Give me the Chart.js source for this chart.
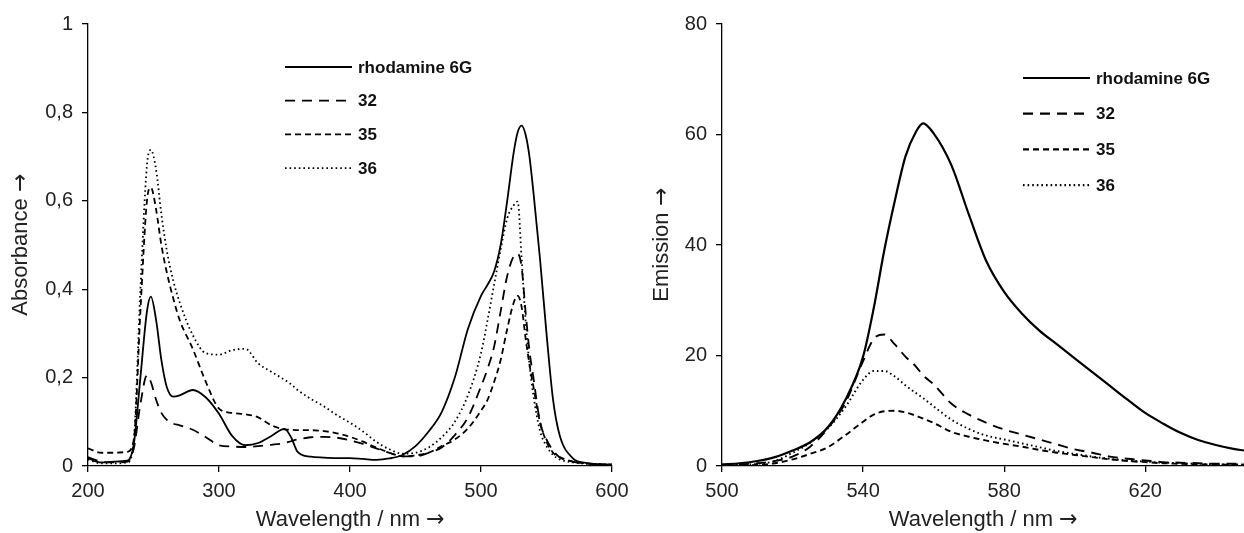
<!DOCTYPE html>
<html>
<head>
<meta charset="utf-8">
<script src="https://cdn.jsdelivr.net/npm/chart.js@4.4.0/dist/chart.umd.min.js"></script>
<style>
@font-face { font-family: 'ArrowGlyph'; src: local('DejaVu Sans'), local('DejaVuSans'); unicode-range: U+2190-21FF; }
html, body { margin: 0; padding: 0; background: #fff; }
#wrap { position: relative; width: 1244px; height: 533px; overflow: hidden; }
#absChart { position: absolute; left: 0; top: 0; }
#emChart { position: absolute; left: 640px; top: 0; }
</style>
</head>
<body>
<div id="wrap">
  <canvas id="absChart" width="640" height="533"></canvas>
  <canvas id="emChart" width="604" height="533"></canvas>
</div>
<script>
// series labels (same for both panels)
const seriesNames = ['rhodamine 6G', '32', '35', '36'];

// absorbance panel, wavelength in nm
const absTicksX = [200, 300, 400, 500, 600];
const absWavelength = [200, 210, 220, 230, 235, 240, 245, 248, 252, 256, 260, 265, 270, 280, 290, 300, 310, 320, 330, 340,
  350, 355, 360, 370, 380, 390, 400, 410, 420, 430, 440, 450, 460, 470, 480, 490, 500, 505, 510, 515,
  520, 525, 528, 531, 534, 537, 540, 545, 550, 555, 560, 570, 580, 590, 600];
const absRhodamine = [0.018, 0.008, 0.01, 0.012, 0.05, 0.2, 0.35, 0.383, 0.33, 0.24, 0.18, 0.157, 0.16, 0.172, 0.155, 0.118, 0.068, 0.047, 0.052, 0.068,
  0.084, 0.065, 0.032, 0.021, 0.019, 0.018, 0.018, 0.016, 0.014, 0.017, 0.025, 0.045, 0.078, 0.122, 0.2, 0.31, 0.385, 0.41, 0.44, 0.5,
  0.6, 0.71, 0.755, 0.77, 0.75, 0.7, 0.62, 0.47, 0.3, 0.15, 0.07, 0.018, 0.007, 0.004, 0.003];
const abs32 = [0.02, 0.01, 0.008, 0.01, 0.04, 0.14, 0.205, 0.19, 0.15, 0.12, 0.105, 0.096, 0.092, 0.082, 0.065, 0.047, 0.044, 0.043, 0.045, 0.048,
  0.052, 0.056, 0.06, 0.065, 0.066, 0.064, 0.058, 0.05, 0.04, 0.03, 0.022, 0.022, 0.03, 0.042, 0.07, 0.11, 0.18, 0.22, 0.27, 0.35,
  0.43, 0.475, 0.48, 0.45, 0.35, 0.26, 0.2, 0.1, 0.06, 0.035, 0.02, 0.01, 0.006, 0.004, 0.003];
const abs35 = [0.04, 0.03, 0.03, 0.032, 0.06, 0.35, 0.6, 0.63, 0.58, 0.5, 0.44, 0.38, 0.33, 0.265, 0.19, 0.13, 0.12, 0.117, 0.11, 0.092,
  0.083, 0.082, 0.081, 0.081, 0.079, 0.074, 0.066, 0.055, 0.042, 0.03, 0.022, 0.024, 0.03, 0.045, 0.06, 0.085, 0.125, 0.15, 0.19, 0.24,
  0.31, 0.37, 0.385, 0.36, 0.29, 0.23, 0.18, 0.1, 0.055, 0.03, 0.02, 0.01, 0.006, 0.004, 0.003];
const abs36 = [0.015, 0.006, 0.006, 0.008, 0.06, 0.4, 0.68, 0.715, 0.67, 0.57, 0.49, 0.42, 0.37, 0.296, 0.255, 0.252, 0.262, 0.265, 0.232, 0.213,
  0.195, 0.185, 0.172, 0.152, 0.135, 0.115, 0.098, 0.078, 0.055, 0.038, 0.028, 0.03, 0.042, 0.065, 0.1, 0.16, 0.255, 0.33, 0.41, 0.49,
  0.56, 0.59, 0.598, 0.47, 0.33, 0.23, 0.16, 0.08, 0.045, 0.025, 0.015, 0.008, 0.005, 0.004, 0.003];

// emission panel
const emTicksX = [500, 540, 580, 620];
const emWavelength = [500, 505, 510, 515, 520, 525, 530, 535, 540, 543, 546, 549, 552, 555, 557, 560, 565, 570, 575, 580,
  585, 590, 595, 600, 605, 610, 615, 620, 625, 630, 635, 640, 645, 648];
const emRhodamine = [0.3, 0.5, 0.9, 1.6, 2.8, 4.3, 7.0, 12, 19.8, 28.5, 39, 48, 56, 60.5, 62, 60.2, 54.5, 45.5, 37, 31.5,
  27.6, 24.5, 22, 19.5, 17, 14.5, 12, 9.6, 7.7, 6.0, 4.7, 3.8, 3.1, 2.8];
const em32 = [0.2, 0.3, 0.5, 0.9, 1.7, 3.5, 6.8, 11.5, 19, 23, 23.8, 22, 19.8, 18, 16.4, 14.8, 11.3, 9.3, 7.8, 6.6,
  5.7, 4.8, 3.9, 3.0, 2.4, 1.7, 1.3, 1.0, 0.7, 0.6, 0.5, 0.4, 0.4, 0.4];
const em35 = [0.1, 0.1, 0.2, 0.5, 1.2, 2.2, 3.4, 5.6, 8.0, 9.3, 9.9, 10.0, 9.7, 9.1, 8.6, 7.8, 6.2, 5.3, 4.6, 4.0,
  3.5, 2.9, 2.4, 2.0, 1.6, 1.2, 0.9, 0.7, 0.5, 0.4, 0.3, 0.3, 0.2, 0.2];
const em36 = [0.1, 0.2, 0.4, 0.9, 2.4, 4.2, 6.8, 10.7, 15.6, 17.2, 17.2, 16.2, 14.6, 13.2, 12.3, 10.8, 8.4, 6.7, 5.5, 4.8,
  4.1, 3.4, 2.7, 2.2, 1.7, 1.3, 1.0, 0.8, 0.6, 0.5, 0.4, 0.3, 0.3, 0.3];

const lineDashes = [[], [10, 7], [6, 4], [1.6, 3]];
const FONT = 'ArrowGlyph, "Liberation Sans", Arial, sans-serif';

function toPoints(xs, ys) {
    return xs.map((x, i) => ({ x: x, y: ys[i] }));
}

function makeDatasets(xs, seriesList, widths) {
    return seriesList.map((ys, i) => ({
        label: seriesNames[i],
        data: toPoints(xs, ys),
        borderColor: '#000',
        borderWidth: widths[i],
        borderDash: lineDashes[i],
        pointRadius: 0,
        cubicInterpolationMode: 'monotone',
        fill: false
    }));
}

// legend drawn to the right of short line samples
const sideLegend = {
    id: 'sideLegend',
    afterDatasetsDraw(chart, args, opts) {
        const ctx = chart.ctx;
        ctx.save();
        chart.data.datasets.forEach((ds, i) => {
            const y = opts.top + i * opts.gap;
            ctx.beginPath();
            ctx.setLineDash(ds.borderDash);
            ctx.lineWidth = opts.lineWidth;
            ctx.strokeStyle = '#000';
            ctx.moveTo(opts.x, y);
            ctx.lineTo(opts.x + opts.len, y);
            ctx.stroke();
            ctx.setLineDash([]);
            ctx.fillStyle = '#111';
            ctx.font = 'bold 17px ' + FONT;
            ctx.textBaseline = 'middle';
            ctx.fillText(ds.label, opts.x + opts.len + 6, y + 1);
        });
        ctx.restore();
    }
};

function axisStyle() {
    return {
        border: { display: true, color: '#000', width: 1.3 },
        grid: { display: true, drawOnChartArea: false, drawTicks: true, tickLength: 6, color: '#000', lineWidth: 1.3 },
    };
}

function buildChart(id, cfg) {
    const xAxis = Object.assign(axisStyle(), {
        type: 'linear',
        min: cfg.xMin,
        max: cfg.xMax,
        ticks: { padding: 7, color: '#222', font: { family: FONT, size: 20 }, maxRotation: 0 },
        afterBuildTicks: scale => {
            scale.ticks = cfg.xTicks.map(v => ({ value: v }));
        },
        afterFit: scale => { scale.height = 67; },
        title: { display: true, text: 'Wavelength / nm →', color: '#222', font: { family: FONT, size: 22 }, padding: 0 }
    });
    const yAxis = Object.assign(axisStyle(), {
        type: 'linear',
        min: 0,
        max: cfg.yMax,
        ticks: { stepSize: cfg.yStep, padding: 9, color: '#222', font: { family: FONT, size: 20 }, callback: cfg.yFormat },
        afterFit: scale => { scale.width = cfg.yWidth; },
        title: { display: true, text: cfg.yTitle, color: '#222', font: { family: FONT, size: 22 }, padding: { top: cfg.yTitlePad, bottom: 0 } }
    });

    return new Chart(document.getElementById(id), {
        type: 'line',
        data: { datasets: cfg.datasets },
        options: {
            responsive: false,
            animation: false,
            layout: { padding: cfg.padding },
            scales: { x: xAxis, y: yAxis },
            plugins: {
                legend: { display: false },
                tooltip: { enabled: false },
                sideLegend: cfg.legend
            }
        },
        plugins: [sideLegend]
    });
}

function drawAll() {
    buildChart('absChart', {
        datasets: makeDatasets(absWavelength, [absRhodamine, abs32, abs35, abs36], [1.8, 1.8, 1.8, 1.8]),
        xMin: 200, xMax: 600, xTicks: absTicksX,
        yMax: 1, yStep: 0.2,
        yFormat: v => (v === 0 || v === 1) ? String(v) : v.toFixed(1).replace('.', ','),
        yTitle: 'Absorbance →',
        yTitlePad: 8,
        yWidth: 88,
        padding: { top: 24, right: 28, bottom: 0, left: 0 },
        legend: { x: 285, len: 67, top: 67, gap: 33.7, lineWidth: 1.8 }
    });

    buildChart('emChart', {
        datasets: makeDatasets(emWavelength, [emRhodamine, em32, em35, em36], [2.2, 1.9, 1.9, 1.9]),
        xMin: 500, xMax: 648, xTicks: emTicksX,
        yMax: 80, yStep: 20,
        yFormat: v => String(v),
        yTitle: 'Emission →',
        yTitlePad: 9,
        yWidth: 82,
        padding: { top: 24, right: 0, bottom: 0, left: 0 },
        legend: { x: 383, len: 67, top: 78, gap: 35.7, lineWidth: 2.2 }
    });
}

// wait for the arrow glyph font before drawing
document.fonts.load('22px ArrowGlyph', '→').then(drawAll, drawAll);
</script>
</body>
</html>
